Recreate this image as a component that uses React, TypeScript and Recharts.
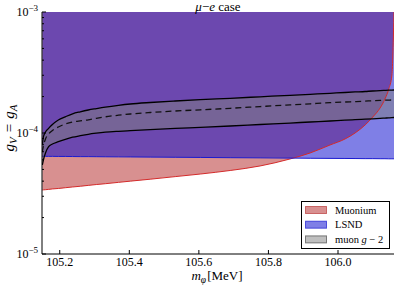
import { ComposedChart, Area, Line, XAxis, YAxis } from 'recharts';

const FONT = '"Liberation Serif", "DejaVu Serif", serif';

// m_phi in MeV
const massMeV = [
  105.15, 105.153, 105.159, 105.168, 105.179, 105.196, 105.216, 105.237, 105.259, 105.282,
  105.305, 105.331, 105.369, 105.403, 105.46, 105.532, 105.604, 105.69, 105.776, 105.862,
  105.92, 105.977, 106.02, 106.049, 106.078, 106.1, 106.121, 106.135, 106.146, 106.155, 106.161,
];

// muon g-2 band (upper / central / lower)
const g2Upper = [
  7.96e-5, 9.27e-5, 1.019e-4, 1.093e-4, 1.176e-4, 1.281e-4, 1.361e-4, 1.441e-4, 1.497e-4, 1.549e-4,
  1.591e-4, 1.637e-4, 1.694e-4, 1.737e-4, 1.787e-4, 1.839e-4, 1.888e-4, 1.936e-4, 1.992e-4, 2.05e-4,
  2.089e-4, 2.129e-4, 2.162e-4, 2.183e-4, 2.203e-4, 2.224e-4, 2.237e-4, 2.25e-4, 2.259e-4, 2.263e-4, 2.268e-4,
];
const g2Central = [
  6.97e-5, 7.81e-5, 8.92e-5, 9.81e-5, 1.049e-4, 1.121e-4, 1.187e-4, 1.233e-4, 1.261e-4, 1.285e-4,
  1.323e-4, 1.361e-4, 1.403e-4, 1.435e-4, 1.477e-4, 1.52e-4, 1.555e-4, 1.6e-4, 1.653e-4, 1.707e-4,
  1.743e-4, 1.78e-4, 1.804e-4, 1.818e-4, 1.835e-4, 1.849e-4, 1.86e-4, 1.867e-4, 1.87e-4, 1.874e-4, 1.874e-4,
];
const g2Lower = [
  5.44e-5, 5.98e-5, 6.84e-5, 7.7e-5, 8.11e-5, 8.47e-5, 8.87e-5, 9.23e-5, 9.5e-5, 9.76e-5,
  9.96e-5, 1.015e-4, 1.033e-4, 1.046e-4, 1.067e-4, 1.091e-4, 1.114e-4, 1.143e-4, 1.176e-4, 1.209e-4,
  1.233e-4, 1.256e-4, 1.276e-4, 1.288e-4, 1.3e-4, 1.31e-4, 1.32e-4, 1.328e-4, 1.333e-4, 1.338e-4, 1.343e-4,
];

// exclusion limits
const muoniumBound = [
  3.38e-5, 3.39e-5, 3.4e-5, 3.42e-5, 3.45e-5, 3.48e-5, 3.53e-5, 3.58e-5, 3.63e-5, 3.69e-5,
  3.75e-5, 3.81e-5, 3.91e-5, 4.0e-5, 4.15e-5, 4.36e-5, 4.58e-5, 4.9e-5, 5.34e-5, 6.1e-5,
  6.84e-5, 7.96e-5, 8.92e-5, 1.0e-4, 1.165e-4, 1.356e-4, 1.609e-4, 1.91e-4, 2.31e-4, 3.01e-4, 1.0e-3,
];
const lsndBound = [
  6.42e-5, 6.42e-5, 6.41e-5, 6.41e-5, 6.41e-5, 6.4e-5, 6.4e-5, 6.39e-5, 6.38e-5, 6.38e-5,
  6.37e-5, 6.36e-5, 6.35e-5, 6.34e-5, 6.32e-5, 6.3e-5, 6.28e-5, 6.25e-5, 6.23e-5, 6.2e-5,
  6.18e-5, 6.17e-5, 6.16e-5, 6.15e-5, 6.14e-5, 6.14e-5, 6.13e-5, 6.13e-5, 6.12e-5, 6.12e-5, 6.12e-5,
];

const xTicks = [105.2, 105.4, 105.6, 105.8, 106.0];
const xDomain = [105.149, 106.161];
const yDomain = [1e-5, 1e-3];
const yTicks = [1e-5, 1e-4]
  .flatMap((d) => [1, 2, 3, 4, 5, 6, 7, 8, 9].map((k) => k * d))
  .concat([1e-3]);

const legendItems = [
  { name: 'Muonium', fill: '#b22222', edge: '#b22222' },
  { name: 'LSND', fill: '#0000cd', edge: '#0000cd' },
  { name: 'g2', fill: '#808080', edge: '#333333' },
];

const W = 395;
const H = 287;
const MARGIN = { top: 12, right: 1, bottom: 0, left: 0 };

const isMajor = (v: number) => Math.abs(Math.log10(v) - Math.round(Math.log10(v))) < 1e-9;

const BottomTick = ({ x, y, payload }: any) => (
  <g>
    <line x1={x} x2={x} y1={y} y2={y - 4} stroke="#000" />
    <text x={x} y={y + 12} textAnchor="middle" fontFamily={FONT} fontSize={12} fill="#000">
      {Number(payload.value).toFixed(1)}
    </text>
  </g>
);

const TopTick = ({ x, y }: any) => (
  <line x1={x} x2={x} y1={y} y2={y + 4} stroke="#000" />
);

const LeftTick = ({ x, y, payload }: any) => {
  const v = payload.value;
  const major = isMajor(v);
  const exp = Math.round(Math.log10(v));
  return (
    <g>
      <line x1={x} x2={x + (major ? 4 : 2)} y1={y} y2={y} stroke="#000" />
      {major && (
        <text x={x - 4} y={y + 4} textAnchor="end" fontFamily={FONT} fontSize={12} fill="#000">
          10
          <tspan dy={-5} fontSize={9}>
            {'\u2212' + Math.abs(exp)}
          </tspan>
        </text>
      )}
    </g>
  );
};

const RightTick = ({ x, y, payload }: any) => {
  const major = isMajor(payload.value);
  return <line x1={x} x2={x - (major ? 4 : 2)} y1={y} y2={y} stroke="#000" />;
};

// same four axes in both charts; `show` decides whether they draw anything
const axes = (show: boolean) => [
  <XAxis
    key="xb"
    dataKey="m"
    type="number"
    domain={xDomain}
    allowDataOverflow
    ticks={xTicks}
    height={33}
    tickSize={0}
    tickMargin={0}
    tickLine={false}
    tick={show ? <BottomTick /> : false}
    axisLine={show ? { stroke: '#000' } : false}
    interval={0}
  />,
  <XAxis
    key="xt"
    xAxisId="top"
    orientation="top"
    dataKey="m"
    type="number"
    domain={xDomain}
    allowDataOverflow
    ticks={xTicks}
    height={0}
    tickSize={0}
    tickMargin={0}
    tickLine={false}
    tick={show ? <TopTick /> : false}
    axisLine={show ? { stroke: '#000' } : false}
    interval={0}
  />,
  <YAxis
    key="yl"
    type="number"
    scale="log"
    domain={yDomain}
    allowDataOverflow
    ticks={yTicks}
    width={42}
    tickSize={0}
    tickMargin={0}
    tickLine={false}
    tick={show ? <LeftTick /> : false}
    axisLine={show ? { stroke: '#000' } : false}
    interval={0}
  />,
  <YAxis
    key="yr"
    yAxisId="right"
    orientation="right"
    type="number"
    scale="log"
    domain={yDomain}
    allowDataOverflow
    ticks={yTicks}
    width={0}
    tickSize={0}
    tickMargin={0}
    tickLine={false}
    tick={show ? <RightTick /> : false}
    axisLine={show ? { stroke: '#000' } : false}
    interval={0}
  />,
];

export default function App() {
  const TOP = yDomain[1];
  const data = massMeV.map((m, i) => ({
    m,
    muoniumArea: [muoniumBound[i], TOP],
    lsndArea: [lsndBound[i], TOP],
    band: [g2Lower[i], g2Upper[i]],
    muonium: muoniumBound[i],
    lsnd: lsndBound[i],
    upper: g2Upper[i],
    central: g2Central[i],
    lower: g2Lower[i],
  }));

  return (
    <div style={{ position: 'absolute', left: 0, top: 0, width: W, height: H, background: '#fff' }}>
      <ComposedChart width={W} height={H} data={data} margin={MARGIN}>
        <Area type="monotone" dataKey="muoniumArea" stroke="none" fill="#b22222" fillOpacity={0.5} isAnimationActive={false} />
        <Area type="monotone" dataKey="lsndArea" stroke="none" fill="#0000cd" fillOpacity={0.5} isAnimationActive={false} />
        <Area type="monotone" dataKey="band" stroke="none" fill="#808080" fillOpacity={0.5} isAnimationActive={false} />
        <Line type="monotone" dataKey="muonium" stroke="#d42a2a" strokeWidth={1} dot={false} isAnimationActive={false} />
        <Line type="monotone" dataKey="lsnd" stroke="#1a1ad0" strokeWidth={1} dot={false} isAnimationActive={false} />
        <Line type="monotone" dataKey="upper" stroke="#000" strokeWidth={1.3} dot={false} isAnimationActive={false} />
        <Line type="monotone" dataKey="lower" stroke="#000" strokeWidth={1.3} dot={false} isAnimationActive={false} />
        <Line
          type="monotone"
          dataKey="central"
          stroke="#111"
          strokeWidth={1.3}
          strokeDasharray="6 4"
          dot={false}
          isAnimationActive={false}
        />
        {axes(false)}
      </ComposedChart>

      {/* axes drawn again on top so the ticks sit over the filled regions */}
      <div style={{ position: 'absolute', left: 0, top: 0, pointerEvents: 'none' }}>
        <ComposedChart width={W} height={H} data={data} margin={MARGIN}>
          {axes(true)}
        </ComposedChart>
      </div>

      <svg width={W} height={H} style={{ position: 'absolute', left: 0, top: 0, pointerEvents: 'none' }}>
        <text x={218} y={11} textAnchor="middle" fontFamily={FONT} fontSize={13} fill="#000">
          <tspan fontStyle="italic">{'\u03bc'}</tspan>
          <tspan>{'\u2212'}</tspan>
          <tspan fontStyle="italic">e</tspan>
          <tspan> case</tspan>
        </text>
        <text x={217} y={280} textAnchor="middle" fontFamily={FONT} fontSize={13} fill="#000">
          <tspan fontStyle="italic">m</tspan>
          <tspan fontStyle="italic" fontSize={9.5} dy={3}>{'\u03c6'}</tspan>
          <tspan dy={-3} dx={1}>[MeV]</tspan>
        </text>
        <text
          x={0}
          y={0}
          transform="translate(14,128) rotate(-90)"
          textAnchor="middle"
          fontFamily={FONT}
          fontSize={15}
          fill="#000"
        >
          <tspan fontStyle="italic">g</tspan>
          <tspan fontStyle="italic" fontSize={11} dy={3}>V</tspan>
          <tspan dy={-3} dx={5}>=</tspan>
          <tspan fontStyle="italic" dx={5}>g</tspan>
          <tspan fontStyle="italic" fontSize={11} dy={3}>A</tspan>
        </text>

        {/* legend */}
        <rect x={301.5} y={201.5} width={88} height={47} fill="#fff" stroke="#000" strokeWidth={1} />
        {legendItems.map((item, i) => (
          <g key={item.name}>
            <rect
              x={305.5}
              y={206.5 + i * 14.7}
              width={21}
              height={7}
              fill={item.fill}
              fillOpacity={0.5}
              stroke={item.edge}
              strokeOpacity={0.6}
            />
            <text x={335} y={213.5 + i * 14.7} fontFamily={FONT} fontSize={10.5} fill="#000">
              {item.name === 'g2' ? (
                <>
                  <tspan>muon </tspan>
                  <tspan fontStyle="italic">g</tspan>
                  <tspan> {'\u2212'} 2</tspan>
                </>
              ) : (
                item.name
              )}
            </text>
          </g>
        ))}
      </svg>
    </div>
  );
}
